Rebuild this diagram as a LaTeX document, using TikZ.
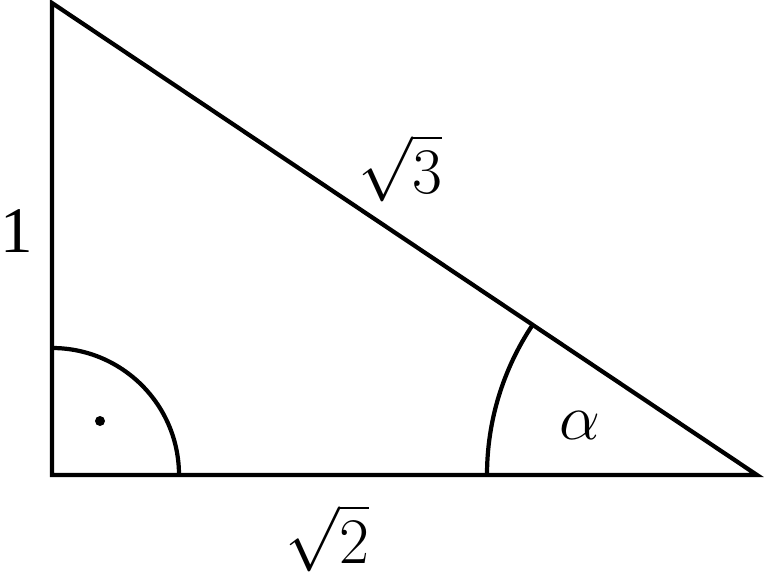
\RequirePackage{fix-cm}
\documentclass[tikz,border=0pt]{standalone}
\usepackage{amsmath}
\usepackage{amssymb}
\usepackage{fontspec}
\setmainfont{Liberation Serif}
\usepackage{tikz}

\begin{document}
\begin{tikzpicture}[x=0.02cm,y=-0.02cm,line width=2.4pt]
\tikzset{lbl/.style={inner sep=0pt,font=\fontsize{37}{40}\selectfont}}
\useasboundingbox (0,0) rectangle (764,582);
\coordinate (A) at (52,3);
\coordinate (B) at (52,475);
\coordinate (C) at (757,475);
\draw [black,line join=miter] (A) -- (B) -- (C) -- cycle;
% right angle mark
\draw [black] (179,475) arc (0:-90:127);
\fill [black] (100,421) circle (5);
% angle alpha
\draw [black] (487,475) arc (180:213.8:270);
\node [lbl] (one) at (17,231) {1};
\node [lbl] (hyp) at (400,168) {$\sqrt{3}$};
\node [lbl] (base) at (327,538) {$\sqrt{2}$};
\node [lbl] (alpha) at (580,425) {$\alpha$};
\end{tikzpicture}
\end{document}
